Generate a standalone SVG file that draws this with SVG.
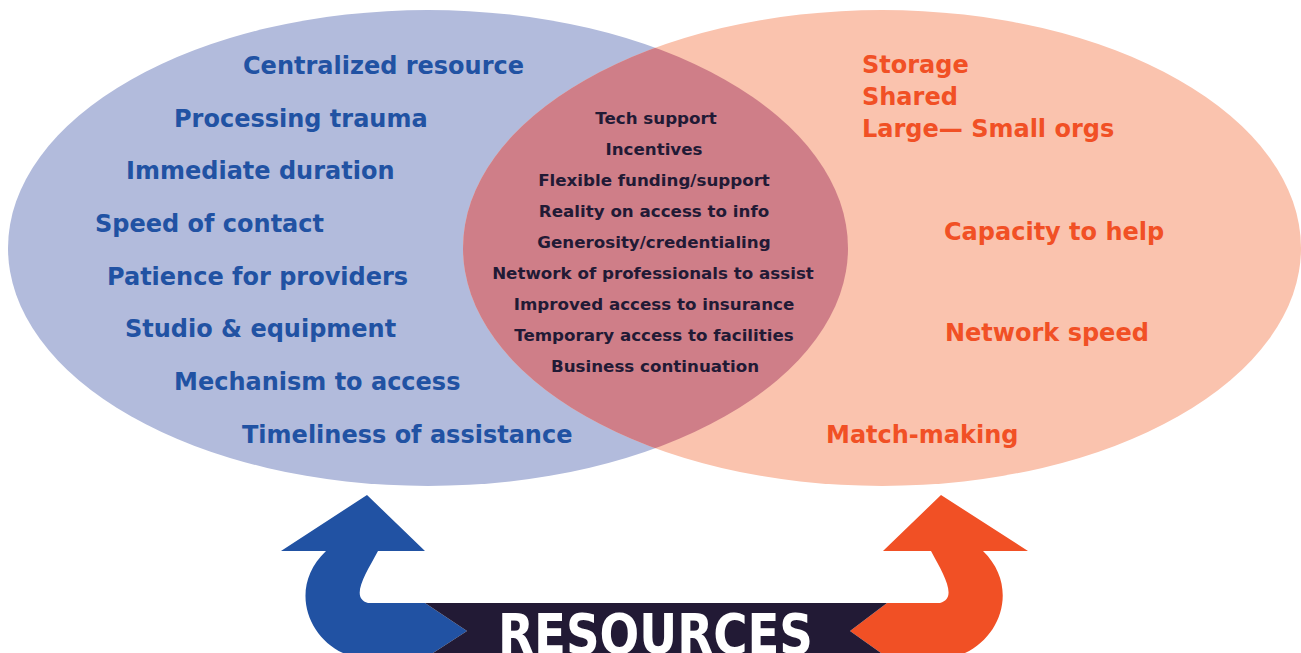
<svg xmlns="http://www.w3.org/2000/svg" width="1301" height="653" viewBox="0 0 1301 653">
<style>
.l{font-family:"DejaVu Sans",sans-serif;font-weight:bold;font-size:24px;fill:#2152a3}
.r{font-family:"DejaVu Sans",sans-serif;font-weight:bold;font-size:24px;fill:#f15025}
.c{font-family:"DejaVu Sans",sans-serif;font-weight:bold;font-size:16.7px;fill:#221a35;text-anchor:middle}
.big{font-family:"DejaVu Sans",sans-serif;font-weight:bold;font-size:56px;fill:#ffffff}
</style>
<defs>
<clipPath id="leftClip"><ellipse cx="428" cy="248" rx="420" ry="238"/></clipPath>
</defs>
<rect width="1301" height="653" fill="#ffffff"/>
<g id="left-set">
<ellipse cx="428" cy="248" rx="420" ry="238" fill="#b2bbdc"/>
<text class="l" x="243" y="74">Centralized resource</text>
<text class="l" x="174" y="127">Processing trauma</text>
<text class="l" x="126" y="179">Immediate duration</text>
<text class="l" x="95" y="232">Speed of contact</text>
<text class="l" x="107" y="285">Patience for providers</text>
<text class="l" x="125" y="337">Studio &amp; equipment</text>
<text class="l" x="174" y="390">Mechanism to access</text>
<text class="l" x="242" y="443">Timeliness of assistance</text>
</g>
<g id="right-set">
<ellipse cx="882" cy="248" rx="419" ry="238" fill="#fac3ae"/>
<text class="r" x="862" y="73">Storage</text>
<text class="r" x="862" y="105">Shared</text>
<text class="r" x="862" y="137">Large— Small orgs</text>
<text class="r" x="944" y="240">Capacity to help</text>
<text class="r" x="945" y="341">Network speed</text>
<text class="r" x="826" y="443">Match-making</text>
</g>
<g id="overlap">
<ellipse cx="882" cy="248" rx="419" ry="238" fill="#cf7e88" clip-path="url(#leftClip)"/>
<text class="c" x="656" y="124">Tech support</text>
<text class="c" x="654" y="155">Incentives</text>
<text class="c" x="654" y="186">Flexible funding/support</text>
<text class="c" x="654" y="217">Reality on access to info</text>
<text class="c" x="654" y="248">Generosity/credentialing</text>
<text class="c" x="653" y="279">Network of professionals to assist</text>
<text class="c" x="654" y="310">Improved access to insurance</text>
<text class="c" x="654" y="341">Temporary access to facilities</text>
<text class="c" x="655" y="372">Business continuation</text>
</g>
<g id="connectors">
<path d="M281 551 L367 495 L425 551 L378 551 C365 575 350 598 368 603 L425 603 L467 631 L433 653 L343 653 C305 635 290 585 326 551 Z" fill="#2152a3"/>
<path d="M1028 551 L941 495 L883 551 L931 551 C944 575 958 598 940 603 L887 603 L850 631 L881 653 L965 653 C1003 635 1018 585 983 551 Z" fill="#f15025"/>
</g>
<g id="resources">
<path d="M425 603 L887 603 L850 631 L881 653 L433 653 L467 631 Z" fill="#221a35"/>
<text class="big" x="498" y="653" textLength="315" lengthAdjust="spacingAndGlyphs">RESOURCES</text>
</g>
</svg>
